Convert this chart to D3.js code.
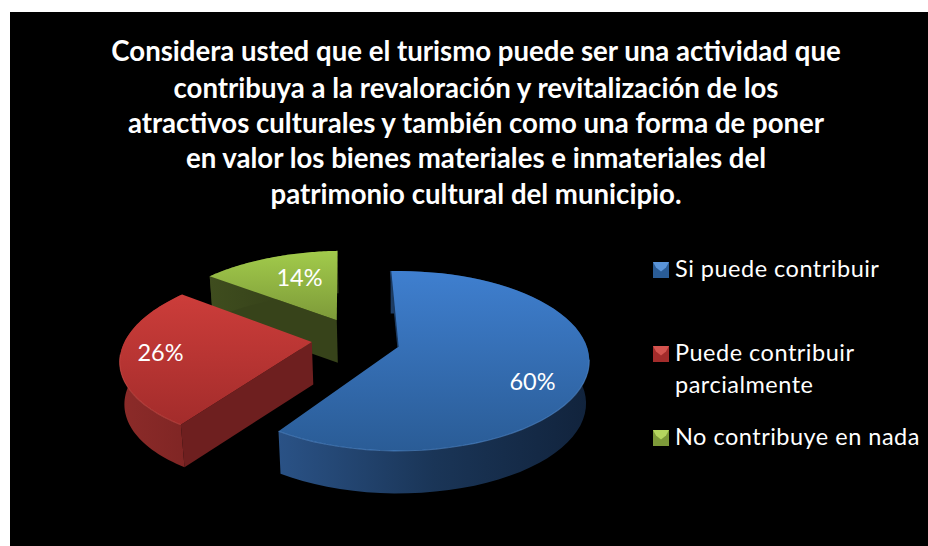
<!DOCTYPE html>
<html><head><meta charset="utf-8">
<script src="https://cdn.jsdelivr.net/npm/d3@7"></script>
<style>html,body{margin:0;padding:0;background:#fff}svg{display:block}</style></head>
<body><svg id="c" width="928" height="546"></svg>
<script>
const titleLines = ["Considera usted que el turismo puede ser una actividad que","contribuya a la revaloración y revitalización de los","atractivos culturales y también como una forma de poner","en valor los bienes materiales e inmateriales del","patrimonio cultural del municipio."];
const categories = ["Si puede contribuir","Puede contribuir parcialmente","No contribuye en nada"];
const values = [60,26,14];
const labels = ["60%","26%","14%"];

const svg = d3.select("#c");
const defs = svg.append("defs");
svg.append("rect").attr("x",10).attr("y",12).attr("width",918).attr("height",534).attr("fill","#000");

// perspective projection of the pie plane
const cx=398, cy=347, R=189, H=87.8, K=0.155, depth=42.5, taper=0.983;
const proj=(u,v)=>{const w=1-K*v;return [cx+R*u/w, cy+H*v/w];};
const drop=(u,v)=>{const p=proj(u,v);return [cx+(p[0]-cx)*taper, p[1]+depth];};
const explode=[[0,0],[-0.46,-0.057],[-0.34,-0.32]];
const palette=[
 {t0:"#3f7fcf",t1:"#2a5c96",rim:"#5a94d8",wall:"#1b3a60",s0:"#2a5286",s1:"#1a3557",s2:"#11233c"},
 {t0:"#cc3d3a",t1:"#a32c2b",rim:"#d4544f",wall:"#6e1f1f",s0:"#8c2b29",s1:"#7a2322",s2:"#691e1e"},
 {t0:"#a2cb4b",t1:"#7d9a39",rim:"#b5d65f",wall:"#37431a",s0:"#3f4d1e",s1:"#37431a",s2:"#2f3916"}];

const pie=d3.pie().sort(null).value(d=>d).startAngle(-2.6*Math.PI/180).endAngle(357.4*Math.PI/180);
const arcs=pie(values);
const line=d3.line();

function grad(id,x1,y1,x2,y2,stops){
  const g=defs.append("linearGradient").attr("id",id).attr("gradientUnits","userSpaceOnUse")
    .attr("x1",x1).attr("y1",y1).attr("x2",x2).attr("y2",y2);
  stops.forEach((c,i)=>g.append("stop").attr("offset",i/(stops.length-1)).attr("stop-color",c));
}

d3.range(arcs.length).reverse().forEach(i=>{
  const a=arcs[i], ex=explode[i], c=palette[i];
  const ang=d3.range(0,61).map(k=>a.startAngle+(a.endAngle-a.startAngle)*k/60);
  const rimPts=ang.map(t=>[Math.sin(t)+ex[0],-Math.cos(t)+ex[1]]);
  const apex=ex;
  const top=[apex,...rimPts].map(p=>proj(p[0],p[1]));
  const rim=rimPts.map(p=>proj(p[0],p[1]));
  const low=rimPts.map(p=>drop(p[0],p[1]));
  const xs=top.map(p=>p[0]), ys=top.map(p=>p[1]);
  grad("t"+i,0,d3.min(ys),0,d3.max(ys),[c.t0,c.t1]);
  grad("s"+i,d3.min(xs),0,d3.max(xs),0,[c.s0,c.s1,c.s2]);
  const g=svg.append("g").attr("class","slice");
  // radial wall on the starting side (the blue one faces away)
  if(i>0){
    const e=rimPts[0];
    g.append("path").attr("fill",c.wall).attr("d",line([proj(apex[0],apex[1]),proj(e[0],e[1]),drop(e[0],e[1]),drop(apex[0],apex[1])])+"Z");
  }
  // outer side
  g.append("path").attr("fill",`url(#s${i})`).attr("d",line([...rim,...low.slice().reverse()])+"Z");
  // top
  g.append("path").attr("fill",`url(#t${i})`).attr("d",line(top)+"Z");
  // rim bevel
  g.append("path").attr("fill","none").attr("stroke",c.rim).attr("stroke-width",1.1).attr("stroke-opacity",.55)
    .attr("d",line(rim.filter((p,k)=>rimPts[k][1]-ex[1]>0.12)));
});
// dark edge along the blue slice's first radius
(function(){const a=arcs[0];const s=[Math.sin(a.startAngle),-Math.cos(a.startAngle)];
 svg.append("path").attr("stroke",palette[0].wall).attr("stroke-width",1.4).attr("fill","none").attr("d",line([proj(s[0],s[1]),proj(0,0)]));})();

// data labels
const labelPos=[[532.5,390],[160.5,361],[299.5,286]];
svg.append("g").selectAll("text").data(labels).join("text")
  .attr("x",(d,i)=>labelPos[i][0]).attr("y",(d,i)=>labelPos[i][1])
  .attr("text-anchor","middle").attr("fill","#fff").attr("font-family","Lato").attr("font-size",23.5).text(d=>d);

// title
svg.append("g").selectAll("text").data(titleLines).join("text")
  .attr("x",476).attr("y",(d,i)=>[61,98,133,168,204][i]).attr("text-anchor","middle")
  .attr("fill","#fff").attr("font-family","Lato").attr("font-weight",700).attr("font-size",27.6).text(d=>d);

// legend
const legendBase=[277,361,445];
const legendLines=[[categories[0]],["Puede contribuir","parcialmente"],[categories[2]]];
const lg=svg.append("g");
legendLines.forEach((ls,i)=>{
  const b=legendBase[i], c=palette[i], x0=653, y0=b-15, s=16;
  const g=lg.append("g");
  g.append("rect").attr("x",x0).attr("y",y0).attr("width",s).attr("height",s).attr("fill",c.t1);
  g.append("path").attr("fill",c.rim).attr("d",line([[x0,y0],[x0+s,y0],[x0+s-3,y0+s*0.35],[x0+s/2,y0+s*0.6],[x0+3,y0+s*0.35]])+"Z");
  ls.forEach((t,k)=>g.append("text").attr("x",675).attr("y",b+k*32).attr("fill","#fff")
    .attr("font-family","Lato").attr("font-size",23.5).attr("letter-spacing",0.5).text(t));
});
</script></body></html>
